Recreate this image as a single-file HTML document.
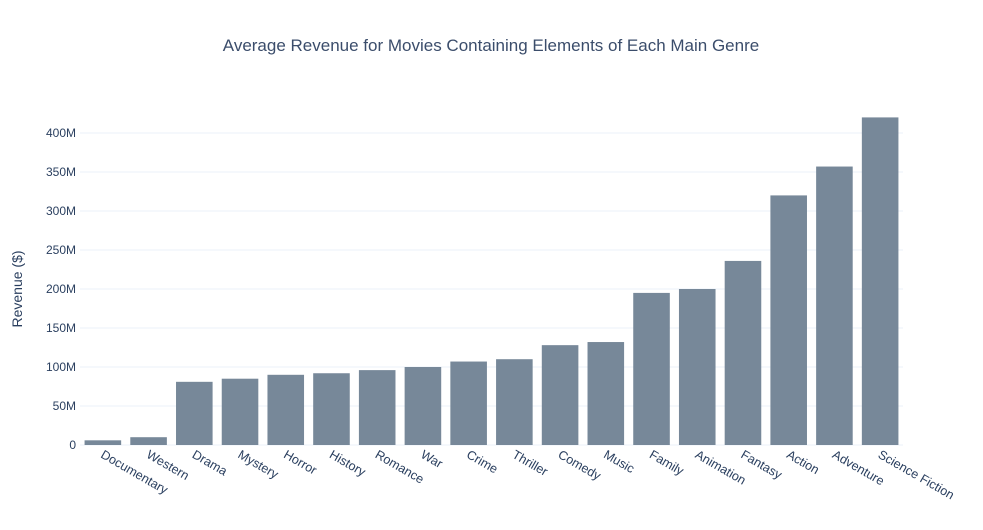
<!DOCTYPE html>
<html><head><meta charset="utf-8"><style>
body{margin:0;background:#fff;}
svg text{font-family:"Liberation Sans",sans-serif;fill:#2a3f5f;}
</style></head><body>
<svg id="chart" width="983" height="525">
<text x="491" y="51" text-anchor="middle" font-size="17" fill="#3b4d6b" style="fill:#3b4d6b">Average Revenue for Movies Containing Elements of Each Main Genre</text>
<text transform="translate(22,289) rotate(-90)" text-anchor="middle" font-size="14">Revenue ($)</text>
<g id="grid"></g><g id="bars"></g><g id="xlabels"></g><g id="ylabels"></g>
</svg>
<script>
const categories=["Documentary","Western","Drama","Mystery","Horror","History","Romance","War","Crime","Thriller","Comedy","Music","Family","Animation","Fantasy","Action","Adventure","Science Fiction"];
const revenues=[6,10,81,85,90,92,96,100,107,110,128,132,195,200,236,320,357,420];
const yTicks=[0,50,100,150,200,250,300,350,400];
const yTickLabels=["0","50M","100M","150M","200M","250M","300M","350M","400M"];
const NS="http://www.w3.org/2000/svg";
const x0=80,x1=903,yBase=445,pxPerM=0.78;
const step=(x1-x0)/categories.length;
const y=v=>yBase-v*pxPerM;
const xc=i=>x0+step*(i+0.5);
function mk(t,a,p){const e=document.createElementNS(NS,t);for(const k in a)e.setAttribute(k,a[k]);p.appendChild(e);return e;}
const grid=document.getElementById('grid'),bars=document.getElementById('bars'),xl=document.getElementById('xlabels'),yl=document.getElementById('ylabels');
yTicks.forEach((t,i)=>{
 if(t>0){const g=mk('line',{x1:x0,x2:x1,y1:y(t),y2:y(t),stroke:'#ebf0f8','stroke-width':1},grid);
 
 }
 const l=mk('text',{x:x0-4,y:y(t)+4,'text-anchor':'end','font-size':12},yl);l.textContent=yTickLabels[i];
 
 
});
const ax=mk('line',{x1:x0,x2:x1,y1:yBase,y2:yBase,stroke:'#ebf0f8','stroke-width':1},grid);


categories.forEach((c,i)=>{
 const w=step*0.8;
 const r=mk('rect',{x:xc(i)-w/2,y:y(revenues[i]),width:w,height:revenues[i]*pxPerM,fill:'#778899'},bars);
 
 
 const t=mk('text',{x:0,y:0,'font-size':12.6,transform:`translate(${xc(i)-3},${yBase+12}) rotate(30)`},xl);t.textContent=c;
 
 
});
</script>
</body></html>
